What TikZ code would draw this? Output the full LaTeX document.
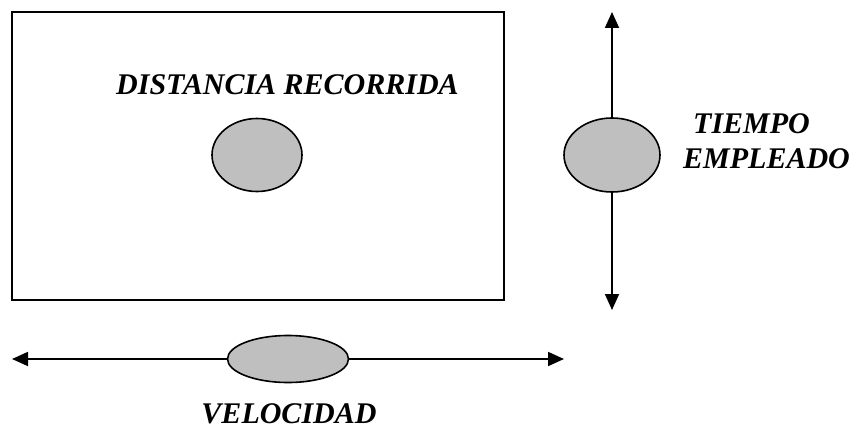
\documentclass[tikz,border=0pt]{standalone}
\usepackage{fontspec}
\setmainfont{Liberation Serif}
\usetikzlibrary{shapes.geometric,arrows.meta}
\tikzset{
  blob/.style={ellipse,draw=black,line width=1.6pt,fill=black!25,inner sep=0pt},
  lbl/.style={font=\fontsize{30}{35}\selectfont\bfseries\itshape,inner sep=0pt},
  axis/.style={line width=1.8pt,{Triangle[length=16pt,width=14pt]}-{Triangle[length=16pt,width=14pt]}}
}
\begin{document}
\begin{tikzpicture}[x=1pt,y=-1pt]
\useasboundingbox (0,0) rectangle (864,428);
\node[draw=black,line width=1.6pt,minimum width=492pt,minimum height=288pt,inner sep=0pt,anchor=north west] (box) at (11,11) {};
\node[lbl,anchor=base] (dist) at (287.5,94) {DISTANCIA RECORRIDA};
\node[blob,minimum width=90pt,minimum height=73pt] (e1) at (257,155) {};
% vertical axis
\coordinate (vt) at (612,12);
\coordinate (vb) at (612,310);
\draw[axis] (vt) -- (vb);
\node[blob,minimum width=96pt,minimum height=74pt] (e2) at (612,155) {};
\node[lbl,anchor=base west,align=left] (tiempo) at (683,168) {\hspace*{10pt}TIEMPO\\EMPLEADO};
% horizontal axis
\coordinate (hl) at (12,359);
\coordinate (hr) at (564,359);
\draw[axis] (hl) -- (hr);
\node[blob,minimum width=121pt,minimum height=47pt] (e3) at (288,359) {};
\node[lbl,anchor=base] (vel) at (289,423) {VELOCIDAD};
\end{tikzpicture}
\end{document}
